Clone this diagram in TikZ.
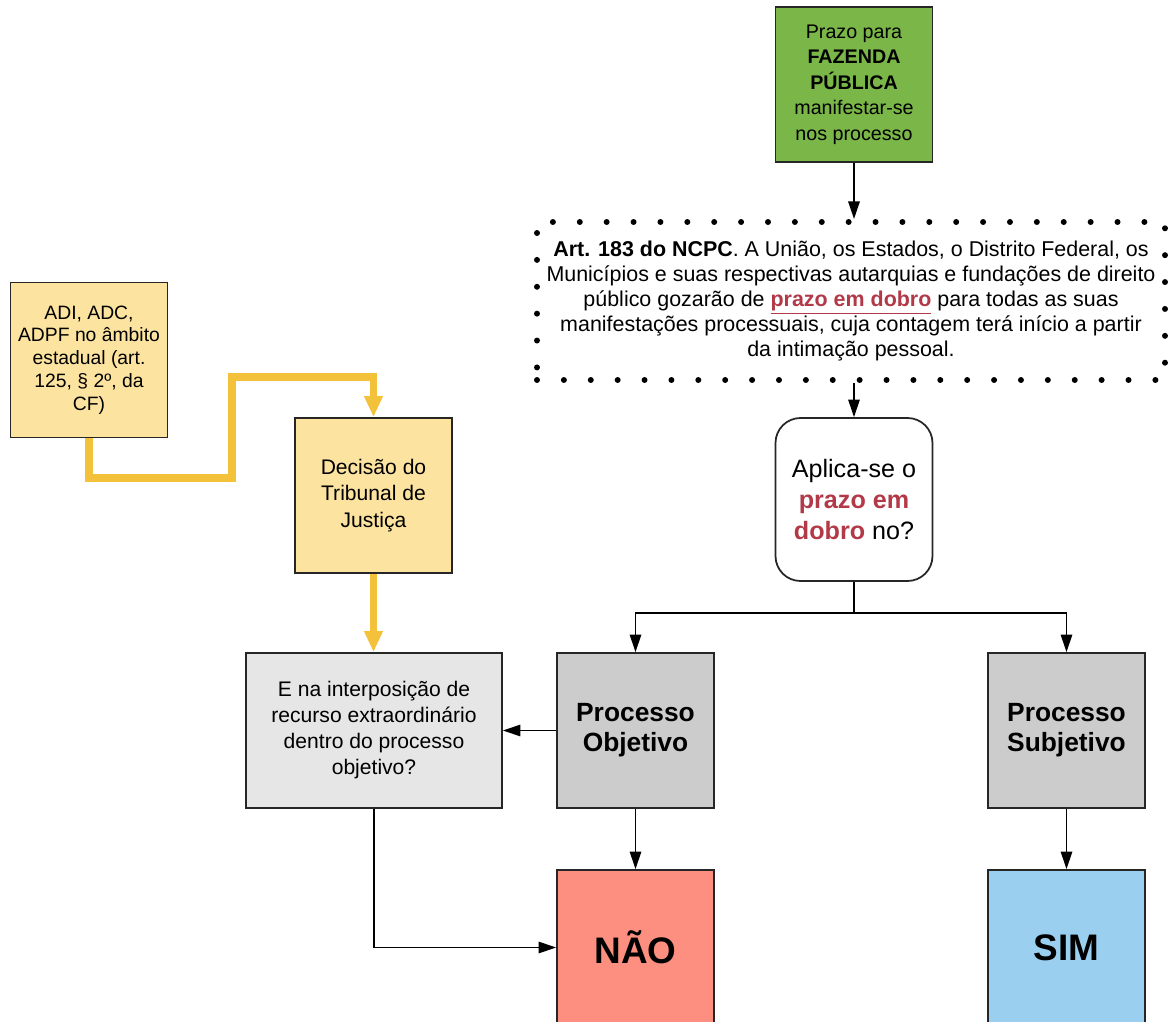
\documentclass[tikz,border=0pt]{standalone}
\usepackage{fontspec}
\setmainfont{Liberation Sans}
\usetikzlibrary{arrows.meta}

\definecolor{verde}{HTML}{7AB648}
\definecolor{amarelo}{HTML}{FCE4A0}
\definecolor{amarelolinha}{HTML}{F4C13A}
\definecolor{cinzaclaro}{HTML}{E6E6E6}
\definecolor{cinza}{HTML}{CCCCCC}
\definecolor{salmao}{HTML}{FC8F80}
\definecolor{azul}{HTML}{9ACFF0}
\definecolor{vermelho}{HTML}{B23A48}

\tikzset{
  caixa/.style={rectangle, draw=black!85, line width=1pt, align=center,
    minimum width=3.14cm, minimum height=3.1cm, inner sep=2pt},
  pontilhado/.style={rectangle, draw, line width=3.4pt, line cap=round,
    dash pattern=on 0pt off 15.3pt, align=center,
    minimum width=12.56cm, minimum height=3.16cm},
  seta/.style={-{Triangle[length=10pt,width=6.5pt]}, line width=1pt},
  setaam/.style={-{Triangle[length=12pt,width=10pt]}, line width=4.2pt, draw=amarelolinha},
}

\begin{document}
\begin{tikzpicture}
  \useasboundingbox (0,0) rectangle (23.46,-20.44);
  \clip (0,0) rectangle (23.46,-20.44);

  % caixas do lado direito
  \node[caixa, fill=verde, font=\fontsize{11.2}{14.5}\selectfont] (prazo) at (17.08,-1.69)
    {Prazo para\\\textbf{FAZENDA}\\\textbf{PÚBLICA}\\manifestar-se\\nos processo};
  \node[pontilhado, font=\fontsize{12.2}{14.2}\selectfont] (art) at (17.02,-6.02)
    {\textbf{Art. 183 do NCPC}. A União, os Estados, o Distrito Federal, os\\
     Municípios e suas respectivas autarquias e fundações de direito\\
     público gozarão de \textcolor{vermelho}{\underline{\textbf{prazo em dobro}}} para todas as suas\\
     manifestações processuais, cuja contagem terá início a partir\\
     da intimação pessoal.};
  \node[caixa, fill=white, rounded corners=0.5cm, minimum height=3.26cm,
    font=\fontsize{14.3}{17.5}\selectfont] (apl) at (17.08,-9.99)
    {Aplica-se o\\\textcolor{vermelho}{\textbf{prazo em}}\\\textcolor{vermelho}{\textbf{dobro}} no?};
  \node[caixa, fill=cinza, font=\fontsize{15}{17}\selectfont\bfseries] (obj) at (12.71,-14.61)
    {Processo\\Objetivo};
  \node[caixa, fill=cinza, font=\fontsize{15}{17}\selectfont\bfseries] (subj) at (21.33,-14.61)
    {Processo\\Subjetivo};
  \node[caixa, fill=salmao, font=\fontsize{21}{24}\selectfont\bfseries] (nao) at (12.71,-18.95)
    {NÃO};
  \node[caixa, fill=azul, font=\fontsize{21}{24}\selectfont\bfseries] (sim) at (21.33,-18.95)
    {SIM};

  % caixas do lado esquerdo
  \node[caixa, fill=amarelo, font=\fontsize{11}{13}\selectfont] (adi) at (1.78,-7.2)
    {ADI, ADC,\\ADPF no âmbito\\estadual (art.\\125, § 2º, da\\CF)};
  \node[caixa, fill=amarelo, font=\fontsize{12}{15}\selectfont] (dec) at (7.47,-9.91)
    {Decisão do\\Tribunal de\\Justiça};
  \node[caixa, fill=cinzaclaro, minimum width=5.12cm, font=\fontsize{12}{14.8}\selectfont] (ena) at (7.48,-14.61)
    {E na interposição de\\recurso extraordinário\\dentro do processo\\objetivo?};

  % setas pretas
  \draw[seta] (prazo.south) -- (prazo.south |- art.north);
  \draw[seta] (apl.north |- art.south) -- (apl.north);
  \draw[line width=1pt] (apl.south) -- ++(0,-0.62) coordinate (ramo);
  \draw[seta] (ramo) -| (obj.north);
  \draw[seta] (ramo) -| (subj.north);
  \draw[seta] (obj.west) -- (ena.east);
  \draw[seta] (obj.south) -- (nao.north);
  \draw[seta] (subj.south) -- (sim.north);
  \draw[seta] (ena.south) |- (nao.west);

  % setas amarelas
  \coordinate (c1) at (4.64,-9.56);
  \coordinate (c2) at (4.64,-7.54);
  \draw[setaam] (adi.south) |- (c1) -- (c2) -| (dec.north);
  \draw[setaam] (dec.south) -- (dec.south |- ena.north);
\end{tikzpicture}
\end{document}
